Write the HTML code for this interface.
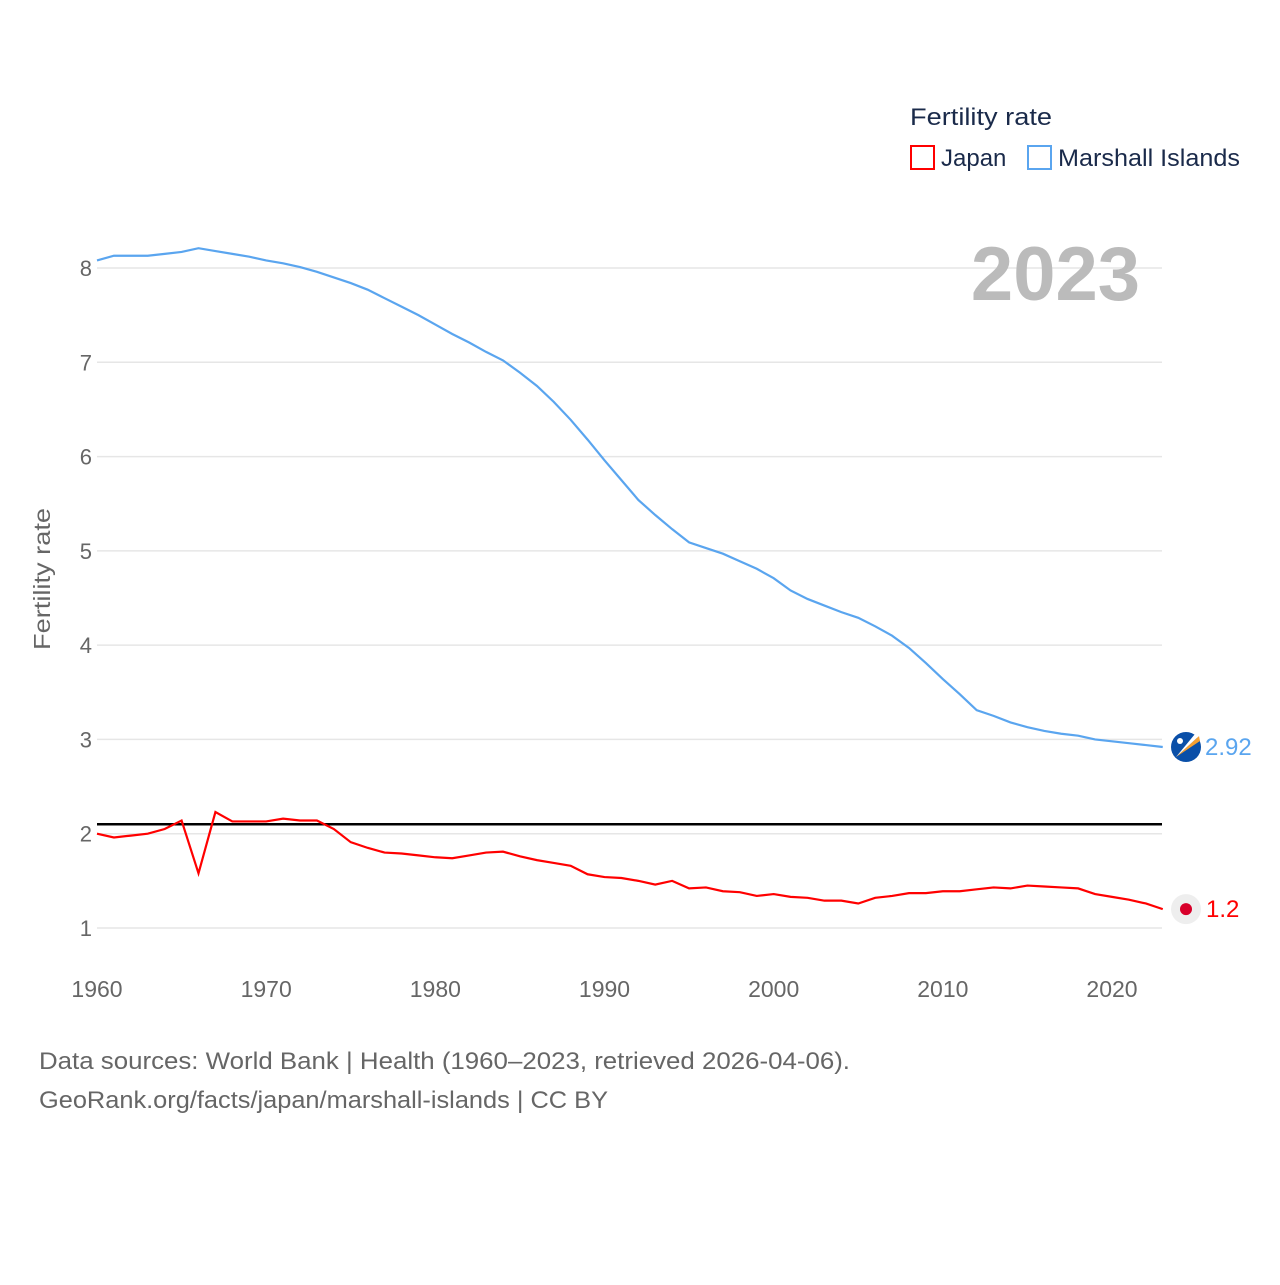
<!DOCTYPE html>
<html><head><meta charset="utf-8"><style>
body{margin:0;background:#fff;font-family:"Liberation Sans",sans-serif;}
svg text{font-family:"Liberation Sans",sans-serif;}
</style></head><body>
<svg id="chart" width="1280" height="1280" xmlns="http://www.w3.org/2000/svg">
<g id="grid"></g>
<g id="yticks"></g>
<g id="xticks"></g>
<text transform="translate(50,579) rotate(-90)" text-anchor="middle" font-size="23" fill="#666" textLength="142" lengthAdjust="spacingAndGlyphs">Fertility rate</text>
<text x="1140" y="300" text-anchor="end" font-size="76" font-weight="bold" fill="#bbb">2023</text>
<g id="series"></g>
<g>
<text x="910" y="125" font-size="24" fill="#1a2a4a" textLength="142" lengthAdjust="spacingAndGlyphs">Fertility rate</text>
<rect x="911" y="146" width="23" height="23" fill="none" stroke="#f00" stroke-width="2"/>
<text x="941" y="166" font-size="24" fill="#1a2a4a">Japan</text>
<rect x="1028" y="146" width="23" height="23" fill="none" stroke="#5aa5ef" stroke-width="2"/>
<text x="1058" y="166" font-size="24" fill="#1a2a4a" textLength="182" lengthAdjust="spacingAndGlyphs">Marshall Islands</text>
</g>
<text x="39" y="1069" font-size="24" fill="#666" textLength="811" lengthAdjust="spacingAndGlyphs">Data sources: World Bank | Health (1960–2023, retrieved 2026-04-06).</text>
<text x="39" y="1108" font-size="24" fill="#666" textLength="569" lengthAdjust="spacingAndGlyphs">GeoRank.org/facts/japan/marshall-islands | CC BY</text>
</svg>
<script>
const years=[];for(let y=1960;y<=2023;y++)years.push(y);
const japan=[2.00,1.96,1.98,2.00,2.05,2.14,1.58,2.23,2.13,2.13,2.13,2.16,2.14,2.14,2.05,1.91,1.85,1.80,1.79,1.77,1.75,1.74,1.77,1.80,1.81,1.76,1.72,1.69,1.66,1.57,1.54,1.53,1.50,1.46,1.50,1.42,1.43,1.39,1.38,1.34,1.36,1.33,1.32,1.29,1.29,1.26,1.32,1.34,1.37,1.37,1.39,1.39,1.41,1.43,1.42,1.45,1.44,1.43,1.42,1.36,1.33,1.30,1.26,1.20];
const marshall=[8.08,8.13,8.13,8.13,8.15,8.17,8.21,8.18,8.15,8.12,8.08,8.05,8.01,7.96,7.90,7.84,7.77,7.68,7.59,7.50,7.40,7.30,7.21,7.11,7.02,6.89,6.75,6.58,6.39,6.18,5.96,5.75,5.54,5.38,5.23,5.09,5.03,4.97,4.89,4.81,4.71,4.58,4.49,4.42,4.35,4.29,4.20,4.10,3.97,3.81,3.64,3.48,3.31,3.25,3.18,3.13,3.09,3.06,3.04,3.00,2.98,2.96,2.94,2.92];
const yTicks=[1,2,3,4,5,6,7,8];
const xTicks=[1960,1970,1980,1990,2000,2010,2020];
const replacement=2.1;
const NS="http://www.w3.org/2000/svg";
const X=y=>97+(y-1960)*(1112-97)/60;
const Y=v=>928-(v-1)*660/7;
function mk(t,a,p){const e=document.createElementNS(NS,t);for(const k in a)e.setAttribute(k,a[k]);p.appendChild(e);return e;}
const grid=document.getElementById('grid'),yt=document.getElementById('yticks'),xt=document.getElementById('xticks'),sr=document.getElementById('series');
yTicks.forEach(v=>{
const l=mk('line',{x1:97,x2:1162,y1:Y(v),y2:Y(v),stroke:'#e6e6e6','stroke-width':1.5},grid);


const t=mk('text',{x:92,y:Y(v)+8,'text-anchor':'end','font-size':22,fill:'#666'},yt);t.textContent=v;


});
xTicks.forEach(v=>{
const t=mk('text',{x:X(v),y:997,'text-anchor':'middle','font-size':23,fill:'#666'},xt);t.textContent=v;


});
const rl=mk('line',{x1:97,x2:1162,y1:Y(replacement),y2:Y(replacement),stroke:'#000','stroke-width':2.5},sr);


function line(arr,col,name){
const p=mk('polyline',{points:arr.map((v,i)=>X(years[i])+','+Y(v)).join(' '),fill:'none',stroke:col,'stroke-width':2.2},sr);


}
line(marshall,'#5aa5ef','line-marshall-islands');
line(japan,'#f00','line-japan');
const lastM=marshall[marshall.length-1],lastJ=japan[japan.length-1];
const mf=mk('g',{},sr);


mk('circle',{cx:1186,cy:Y(lastM),r:15,fill:'#0a4fa8'},mf);
mk('path',{d:`M1176 ${Y(lastM)+10} L1199 ${Y(lastM)-11} L1200 ${Y(lastM)-6} Z`,fill:'#f7a030'},mf);
mk('path',{d:`M1176 ${Y(lastM)+10} L1199 ${Y(lastM)-11} L1195 ${Y(lastM)-13} Z`,fill:'#fff'},mf);
mk('circle',{cx:1180,cy:Y(lastM)-6,r:3,fill:'#fff'},mf);
const tm=mk('text',{x:1205,y:Y(lastM)+8,'font-size':24,fill:'#5aa5ef'},sr);tm.textContent=lastM.toFixed(2);


const jf=mk('g',{},sr);


mk('circle',{cx:1186,cy:Y(lastJ),r:15,fill:'#eee'},jf);
mk('circle',{cx:1186,cy:Y(lastJ),r:6,fill:'#d8002a'},jf);
const tj=mk('text',{x:1206,y:Y(lastJ)+8,'font-size':24,fill:'#f00'},sr);tj.textContent=lastJ.toFixed(1);


</script>
</body></html>
